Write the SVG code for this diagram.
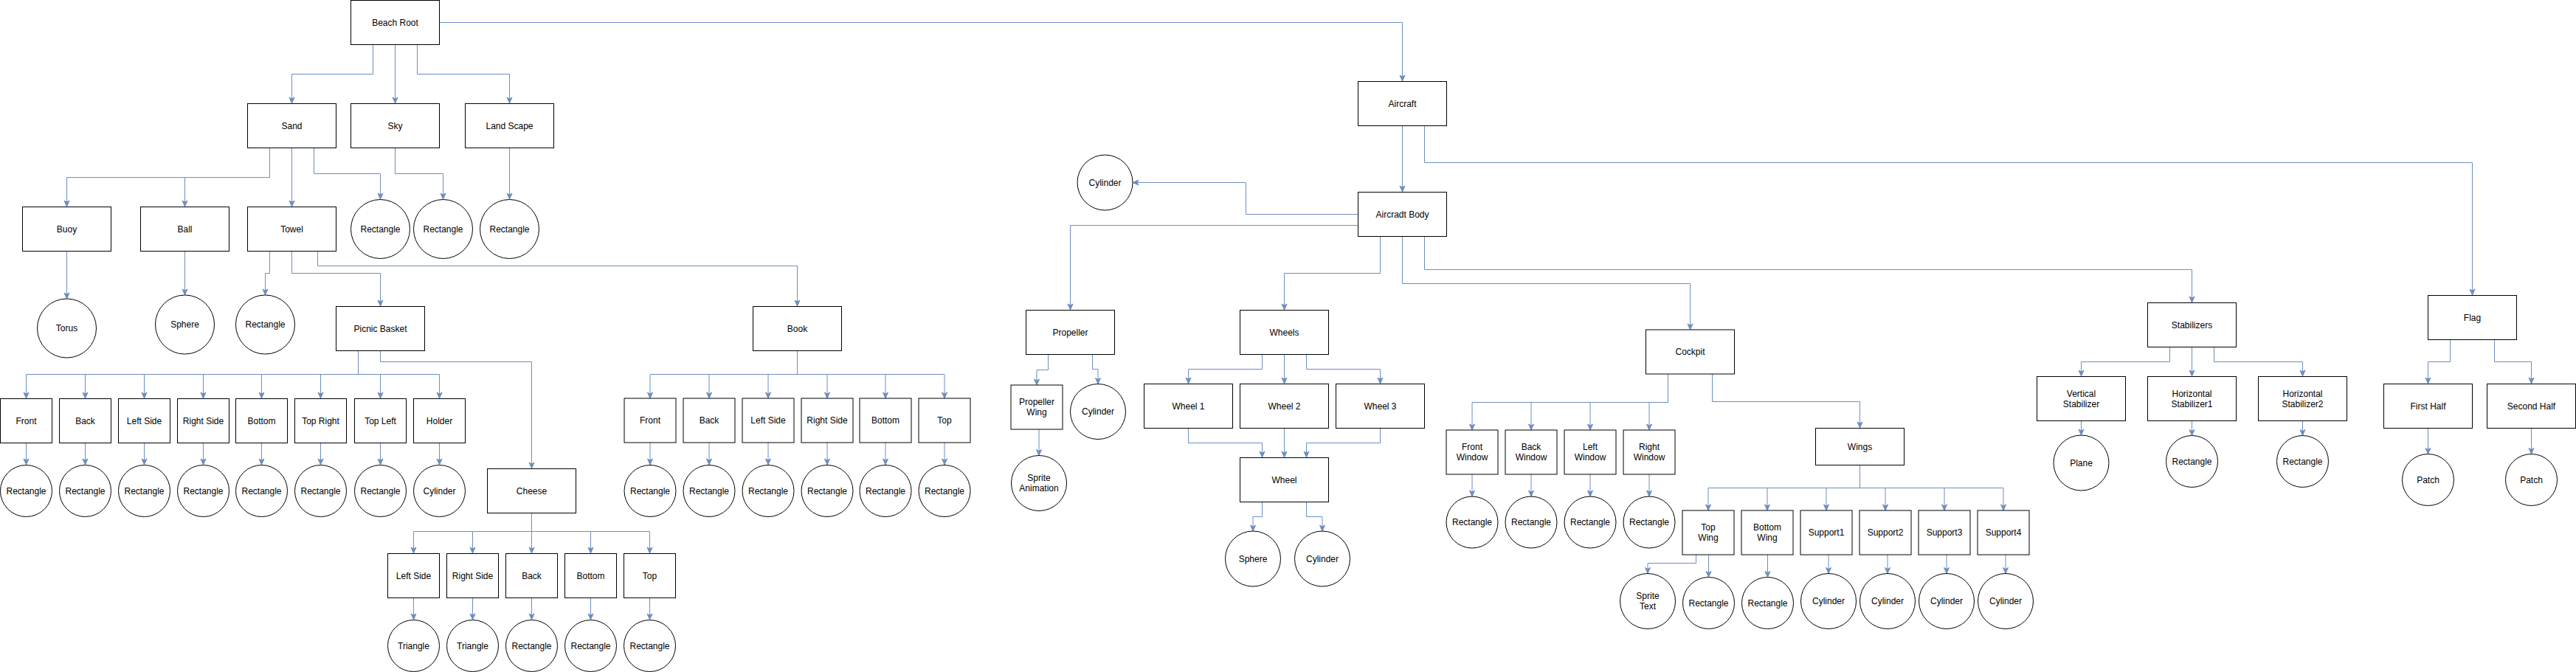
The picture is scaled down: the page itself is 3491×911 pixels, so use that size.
<svg xmlns="http://www.w3.org/2000/svg" width="3491" height="911" viewBox="0 0 3491 911">
<style>
.n{fill:#fff;stroke:#000;stroke-width:1}
.c{fill:#fff;stroke:#000;stroke-width:1}
.t{font-family:"Liberation Sans",Arial,sans-serif;font-size:12px;fill:#000;text-anchor:middle}
.e{fill:none;stroke:#6c8ebf;stroke-width:1;marker-end:url(#arr)}
</style>
<defs>
<marker id="arr" viewBox="0 0 10 10" refX="9" refY="5" markerWidth="10" markerHeight="10" markerUnits="userSpaceOnUse" orient="auto"><path d="M1,1.5 L9,5 L1,8.5 L3,5 Z" fill="#6c8ebf" stroke="#6c8ebf" stroke-width="1"/></marker>
</defs>
<rect x="0" y="0" width="3491" height="911" fill="#fff"/>
<g id="connectors">
<path class="e" d="M505.5,60.5 V100.5 H395.5 V140"/>
<path class="e" d="M535.5,60.5 V140"/>
<path class="e" d="M565.5,60.5 V100.5 H690.5 V140"/>
<path class="e" d="M595.5,30.5 H1900.5 V110"/>
<path class="e" d="M365.5,200.5 V240.5 H90.5 V280"/>
<path class="e" d="M365.5,200.5 V240.5 H250.5 V280"/>
<path class="e" d="M395.5,200.5 V280"/>
<path class="e" d="M425.5,200.5 V235.5 H515.5 V270"/>
<path class="e" d="M535.5,200.5 V235.5 H600.5 V270"/>
<path class="e" d="M690.5,200.5 V270"/>
<path class="e" d="M90.5,340.5 V405"/>
<path class="e" d="M250.5,340.5 V400"/>
<path class="e" d="M365.5,340.5 V370.5 H359.5 V400"/>
<path class="e" d="M395.5,340.5 V370.5 H515.5 V415"/>
<path class="e" d="M430.5,340.5 V360.5 H1080.5 V415"/>
<path class="e" d="M485.5,475.5 V507.5 H35.5 V540"/>
<path class="e" d="M485.5,475.5 V507.5 H115.5 V540"/>
<path class="e" d="M485.5,475.5 V507.5 H195.5 V540"/>
<path class="e" d="M485.5,475.5 V507.5 H275.5 V540"/>
<path class="e" d="M485.5,475.5 V507.5 H354.5 V540"/>
<path class="e" d="M485.5,475.5 V507.5 H434.5 V540"/>
<path class="e" d="M485.5,475.5 V507.5 H515.5 V540"/>
<path class="e" d="M485.5,475.5 V507.5 H595.5 V540"/>
<path class="e" d="M515.5,475.5 V490.5 H720.5 V635"/>
<path class="e" d="M35.5,600.5 V630"/>
<path class="e" d="M115.5,600.5 V630"/>
<path class="e" d="M195.5,600.5 V630"/>
<path class="e" d="M275.5,600.5 V630"/>
<path class="e" d="M354.5,600.5 V630"/>
<path class="e" d="M434.5,600.5 V630"/>
<path class="e" d="M515.5,600.5 V630"/>
<path class="e" d="M595.5,600.5 V630"/>
<path class="e" d="M720.5,695.5 V720.5 H560.5 V750"/>
<path class="e" d="M720.5,695.5 V720.5 H640.5 V750"/>
<path class="e" d="M720.5,695.5 V750"/>
<path class="e" d="M720.5,695.5 V720.5 H800.5 V750"/>
<path class="e" d="M720.5,695.5 V720.5 H880.5 V750"/>
<path class="e" d="M560.5,810.5 V840"/>
<path class="e" d="M640.5,810.5 V840"/>
<path class="e" d="M720.5,810.5 V840"/>
<path class="e" d="M800.5,810.5 V840"/>
<path class="e" d="M880.5,810.5 V840"/>
<path class="e" d="M1080.5,475.5 V507.5 H881 V540"/>
<path class="e" d="M1080.5,475.5 V507.5 H961 V540"/>
<path class="e" d="M1080.5,475.5 V507.5 H1041 V540"/>
<path class="e" d="M1080.5,475.5 V507.5 H1121 V540"/>
<path class="e" d="M1080.5,475.5 V507.5 H1200 V540"/>
<path class="e" d="M1080.5,475.5 V507.5 H1280 V540"/>
<path class="e" d="M881,600 V630"/>
<path class="e" d="M961,600 V630"/>
<path class="e" d="M1041,600 V630"/>
<path class="e" d="M1121,600 V630"/>
<path class="e" d="M1200,600 V630"/>
<path class="e" d="M1280,600 V630"/>
<path class="e" d="M1900.5,170.5 V260"/>
<path class="e" d="M1930.5,170.5 V220.5 H3350.5 V400"/>
<path class="e" d="M1840.5,290.5 H1688.5 V247.5 H1535"/>
<path class="e" d="M1840.5,305.5 H1450.5 V420"/>
<path class="e" d="M1870.5,320.5 V370.5 H1740.5 V420"/>
<path class="e" d="M1900.5,320.5 V384.5 H2290.5 V447"/>
<path class="e" d="M1930.5,320.5 V365.5 H2970.5 V410"/>
<path class="e" d="M1420.5,480.5 V501.5 H1405 V522"/>
<path class="e" d="M1480.5,480.5 V500.5 H1488 V520.5"/>
<path class="e" d="M1408,582 V617.5"/>
<path class="e" d="M1710.5,480.5 V500.5 H1610.5 V520"/>
<path class="e" d="M1740.5,480.5 V520"/>
<path class="e" d="M1770.5,480.5 V500.5 H1870.5 V520"/>
<path class="e" d="M1610.5,580.5 V600.5 H1710.5 V620"/>
<path class="e" d="M1740.5,580.5 V620"/>
<path class="e" d="M1870.5,580.5 V600.5 H1770.5 V620"/>
<path class="e" d="M1710.5,680.5 V700.5 H1698 V720"/>
<path class="e" d="M1770.5,680.5 V700.5 H1792 V720"/>
<path class="e" d="M2260.5,507 V545.5 H1995 V583"/>
<path class="e" d="M2260.5,507 V545.5 H2075 V583"/>
<path class="e" d="M2260.5,507 V545.5 H2155 V583"/>
<path class="e" d="M2260.5,507 V545.5 H2235 V583"/>
<path class="e" d="M1995,643 V673"/>
<path class="e" d="M2075,643 V673"/>
<path class="e" d="M2155,643 V673"/>
<path class="e" d="M2235,643 V673"/>
<path class="e" d="M2320.5,507 V544.5 H2520.5 V580"/>
<path class="e" d="M2520.5,630.5 V661.5 H2315 V692"/>
<path class="e" d="M2520.5,630.5 V661.5 H2395 V692"/>
<path class="e" d="M2520.5,630.5 V661.5 H2475 V692"/>
<path class="e" d="M2520.5,630.5 V661.5 H2555 V692"/>
<path class="e" d="M2520.5,630.5 V661.5 H2635 V692"/>
<path class="e" d="M2520.5,630.5 V661.5 H2715 V692"/>
<path class="e" d="M2298.5,752 V763.5 H2233 V777.5"/>
<path class="e" d="M2315.5,752 V782.5"/>
<path class="e" d="M2395.5,752 V782.5"/>
<path class="e" d="M2478,752 V777.5"/>
<path class="e" d="M2558,752 V777.5"/>
<path class="e" d="M2638,752 V777.5"/>
<path class="e" d="M2718,752 V777.5"/>
<path class="e" d="M2940.5,470.5 V490.5 H2820.5 V510"/>
<path class="e" d="M2970.5,470.5 V510"/>
<path class="e" d="M3000.5,470.5 V490.5 H3120.5 V510"/>
<path class="e" d="M2820.5,570.5 V590"/>
<path class="e" d="M2970.5,570.5 V590.5"/>
<path class="e" d="M3120.5,570.5 V590.5"/>
<path class="e" d="M3320.5,460.5 V490.5 H3290.5 V520"/>
<path class="e" d="M3380.5,460.5 V490.5 H3430.5 V520"/>
<path class="e" d="M3290.5,580.5 V615.5"/>
<path class="e" d="M3430.5,580.5 V615.5"/>
</g>
<g id="beach-root"><rect class="n" x="475.5" y="0.5" width="120" height="60"/><text class="t" x="535.5" y="34.5">Beach Root</text></g>
<g id="sand"><rect class="n" x="335.5" y="140.5" width="120" height="60"/><text class="t" x="395.5" y="174.5">Sand</text></g>
<g id="sky"><rect class="n" x="475.5" y="140.5" width="120" height="60"/><text class="t" x="535.5" y="174.5">Sky</text></g>
<g id="land-scape"><rect class="n" x="630.5" y="140.5" width="120" height="60"/><text class="t" x="690.5" y="174.5">Land Scape</text></g>
<g id="buoy"><rect class="n" x="30.5" y="280.5" width="120" height="60"/><text class="t" x="90.5" y="314.5">Buoy</text></g>
<g id="ball"><rect class="n" x="190.5" y="280.5" width="120" height="60"/><text class="t" x="250.5" y="314.5">Ball</text></g>
<g id="towel"><rect class="n" x="335.5" y="280.5" width="120" height="60"/><text class="t" x="395.5" y="314.5">Towel</text></g>
<g id="sand-rectangle"><circle class="c" cx="515.5" cy="310.5" r="40"/><text class="t" x="515.5" y="314.5">Rectangle</text></g>
<g id="sky-rectangle"><circle class="c" cx="600.5" cy="310.5" r="40"/><text class="t" x="600.5" y="314.5">Rectangle</text></g>
<g id="land-rectangle"><circle class="c" cx="690.5" cy="310.5" r="40"/><text class="t" x="690.5" y="314.5">Rectangle</text></g>
<g id="torus"><circle class="c" cx="90.5" cy="445" r="40"/><text class="t" x="90.5" y="449">Torus</text></g>
<g id="sphere-ball"><circle class="c" cx="250.5" cy="440" r="40"/><text class="t" x="250.5" y="444">Sphere</text></g>
<g id="towel-rectangle"><circle class="c" cx="359.5" cy="440" r="40"/><text class="t" x="359.5" y="444">Rectangle</text></g>
<g id="picnic-basket"><rect class="n" x="455.5" y="415.5" width="120" height="60"/><text class="t" x="515.5" y="449.5">Picnic Basket</text></g>
<g id="book"><rect class="n" x="1020.5" y="415.5" width="120" height="60"/><text class="t" x="1080.5" y="449.5">Book</text></g>
<g id="pb-front"><rect class="n" x="0.5" y="540.5" width="70" height="60"/><text class="t" x="35.5" y="574.5">Front</text></g>
<g id="pb-back"><rect class="n" x="80.5" y="540.5" width="70" height="60"/><text class="t" x="115.5" y="574.5">Back</text></g>
<g id="pb-left-side"><rect class="n" x="160.5" y="540.5" width="70" height="60"/><text class="t" x="195.5" y="574.5">Left Side</text></g>
<g id="pb-right-side"><rect class="n" x="240.5" y="540.5" width="70" height="60"/><text class="t" x="275.5" y="574.5">Right Side</text></g>
<g id="pb-bottom"><rect class="n" x="319.5" y="540.5" width="70" height="60"/><text class="t" x="354.5" y="574.5">Bottom</text></g>
<g id="pb-top-right"><rect class="n" x="399.5" y="540.5" width="70" height="60"/><text class="t" x="434.5" y="574.5">Top Right</text></g>
<g id="pb-top-left"><rect class="n" x="480.5" y="540.5" width="70" height="60"/><text class="t" x="515.5" y="574.5">Top Left</text></g>
<g id="pb-holder"><rect class="n" x="560.5" y="540.5" width="70" height="60"/><text class="t" x="595.5" y="574.5">Holder</text></g>
<g id="pb-front-rect"><circle class="c" cx="35.5" cy="665.5" r="35"/><text class="t" x="35.5" y="669.5">Rectangle</text></g>
<g id="pb-back-rect"><circle class="c" cx="115.5" cy="665.5" r="35"/><text class="t" x="115.5" y="669.5">Rectangle</text></g>
<g id="pb-left-rect"><circle class="c" cx="195.5" cy="665.5" r="35"/><text class="t" x="195.5" y="669.5">Rectangle</text></g>
<g id="pb-right-rect"><circle class="c" cx="275.5" cy="665.5" r="35"/><text class="t" x="275.5" y="669.5">Rectangle</text></g>
<g id="pb-bottom-rect"><circle class="c" cx="354.5" cy="665.5" r="35"/><text class="t" x="354.5" y="669.5">Rectangle</text></g>
<g id="pb-topright-rect"><circle class="c" cx="434.5" cy="665.5" r="35"/><text class="t" x="434.5" y="669.5">Rectangle</text></g>
<g id="pb-topleft-rect"><circle class="c" cx="515.5" cy="665.5" r="35"/><text class="t" x="515.5" y="669.5">Rectangle</text></g>
<g id="pb-holder-cyl"><circle class="c" cx="595.5" cy="665.5" r="35"/><text class="t" x="595.5" y="669.5">Cylinder</text></g>
<g id="cheese"><rect class="n" x="660.5" y="635.5" width="120" height="60"/><text class="t" x="720.5" y="669.5">Cheese</text></g>
<g id="ch-left-side"><rect class="n" x="525.5" y="750.5" width="70" height="60"/><text class="t" x="560.5" y="784.5">Left Side</text></g>
<g id="ch-right-side"><rect class="n" x="605.5" y="750.5" width="70" height="60"/><text class="t" x="640.5" y="784.5">Right Side</text></g>
<g id="ch-back"><rect class="n" x="685.5" y="750.5" width="70" height="60"/><text class="t" x="720.5" y="784.5">Back</text></g>
<g id="ch-bottom"><rect class="n" x="765.5" y="750.5" width="70" height="60"/><text class="t" x="800.5" y="784.5">Bottom</text></g>
<g id="ch-top"><rect class="n" x="845.5" y="750.5" width="70" height="60"/><text class="t" x="880.5" y="784.5">Top</text></g>
<g id="ch-left-tri"><circle class="c" cx="560.5" cy="875.5" r="35"/><text class="t" x="560.5" y="879.5">Triangle</text></g>
<g id="ch-right-tri"><circle class="c" cx="640.5" cy="875.5" r="35"/><text class="t" x="640.5" y="879.5">Triangle</text></g>
<g id="ch-back-rect"><circle class="c" cx="720.5" cy="875.5" r="35"/><text class="t" x="720.5" y="879.5">Rectangle</text></g>
<g id="ch-bottom-rect"><circle class="c" cx="800.5" cy="875.5" r="35"/><text class="t" x="800.5" y="879.5">Rectangle</text></g>
<g id="ch-top-rect"><circle class="c" cx="880.5" cy="875.5" r="35"/><text class="t" x="880.5" y="879.5">Rectangle</text></g>
<g id="bk-front"><rect class="n" x="846" y="540" width="70" height="60"/><text class="t" x="881" y="574">Front</text></g>
<g id="bk-back"><rect class="n" x="926" y="540" width="70" height="60"/><text class="t" x="961" y="574">Back</text></g>
<g id="bk-left-side"><rect class="n" x="1006" y="540" width="70" height="60"/><text class="t" x="1041" y="574">Left Side</text></g>
<g id="bk-right-side"><rect class="n" x="1086" y="540" width="70" height="60"/><text class="t" x="1121" y="574">Right Side</text></g>
<g id="bk-bottom"><rect class="n" x="1165" y="540" width="70" height="60"/><text class="t" x="1200" y="574">Bottom</text></g>
<g id="bk-top"><rect class="n" x="1245" y="540" width="70" height="60"/><text class="t" x="1280" y="574">Top</text></g>
<g id="bk-front-rect"><circle class="c" cx="881" cy="665.5" r="35"/><text class="t" x="881" y="669.5">Rectangle</text></g>
<g id="bk-back-rect"><circle class="c" cx="961" cy="665.5" r="35"/><text class="t" x="961" y="669.5">Rectangle</text></g>
<g id="bk-left-rect"><circle class="c" cx="1041" cy="665.5" r="35"/><text class="t" x="1041" y="669.5">Rectangle</text></g>
<g id="bk-right-rect"><circle class="c" cx="1121" cy="665.5" r="35"/><text class="t" x="1121" y="669.5">Rectangle</text></g>
<g id="bk-bottom-rect"><circle class="c" cx="1200" cy="665.5" r="35"/><text class="t" x="1200" y="669.5">Rectangle</text></g>
<g id="bk-top-rect"><circle class="c" cx="1280" cy="665.5" r="35"/><text class="t" x="1280" y="669.5">Rectangle</text></g>
<g id="aircraft"><rect class="n" x="1840.5" y="110.5" width="120" height="60"/><text class="t" x="1900.5" y="144.5">Aircraft</text></g>
<g id="aircraft-body"><rect class="n" x="1840.5" y="260.5" width="120" height="60"/><text class="t" x="1900.5" y="294.5">Aircradt Body</text></g>
<g id="body-cylinder"><circle class="c" cx="1497.5" cy="247.5" r="37.5"/><text class="t" x="1497.5" y="251.5">Cylinder</text></g>
<g id="propeller"><rect class="n" x="1390.5" y="420.5" width="120" height="60"/><text class="t" x="1450.5" y="454.5">Propeller</text></g>
<g id="wheels"><rect class="n" x="1680.5" y="420.5" width="120" height="60"/><text class="t" x="1740.5" y="454.5">Wheels</text></g>
<g id="cockpit"><rect class="n" x="2230.5" y="447" width="120" height="60"/><text class="t" x="2290.5" y="481">Cockpit</text></g>
<g id="stabilizers"><rect class="n" x="2910.5" y="410.5" width="120" height="60"/><text class="t" x="2970.5" y="444.5">Stabilizers</text></g>
<g id="flag"><rect class="n" x="3290.5" y="400.5" width="120" height="60"/><text class="t" x="3350.5" y="434.5">Flag</text></g>
<g id="propeller-wing"><rect class="n" x="1370" y="522" width="70" height="60"/><text class="t" x="1405" y="549">Propeller</text><text class="t" x="1405" y="563">Wing</text></g>
<g id="propeller-cylinder"><circle class="c" cx="1488" cy="558" r="37.5"/><text class="t" x="1488" y="562">Cylinder</text></g>
<g id="sprite-animation"><circle class="c" cx="1408" cy="655" r="37.5"/><text class="t" x="1408" y="652">Sprite</text><text class="t" x="1408" y="666">Animation</text></g>
<g id="wheel-1"><rect class="n" x="1550.5" y="520.5" width="120" height="60"/><text class="t" x="1610.5" y="554.5">Wheel 1</text></g>
<g id="wheel-2"><rect class="n" x="1680.5" y="520.5" width="120" height="60"/><text class="t" x="1740.5" y="554.5">Wheel 2</text></g>
<g id="wheel-3"><rect class="n" x="1810.5" y="520.5" width="120" height="60"/><text class="t" x="1870.5" y="554.5">Wheel 3</text></g>
<g id="wheel"><rect class="n" x="1680.5" y="620.5" width="120" height="60"/><text class="t" x="1740.5" y="654.5">Wheel</text></g>
<g id="wheel-sphere"><circle class="c" cx="1698" cy="757.5" r="37.5"/><text class="t" x="1698" y="761.5">Sphere</text></g>
<g id="wheel-cylinder"><circle class="c" cx="1792" cy="757.5" r="37.5"/><text class="t" x="1792" y="761.5">Cylinder</text></g>
<g id="front-window"><rect class="n" x="1960" y="583" width="70" height="60"/><text class="t" x="1995" y="610">Front</text><text class="t" x="1995" y="624">Window</text></g>
<g id="back-window"><rect class="n" x="2040" y="583" width="70" height="60"/><text class="t" x="2075" y="610">Back</text><text class="t" x="2075" y="624">Window</text></g>
<g id="left-window"><rect class="n" x="2120" y="583" width="70" height="60"/><text class="t" x="2155" y="610">Left</text><text class="t" x="2155" y="624">Window</text></g>
<g id="right-window"><rect class="n" x="2200" y="583" width="70" height="60"/><text class="t" x="2235" y="610">Right</text><text class="t" x="2235" y="624">Window</text></g>
<g id="fw-rect"><circle class="c" cx="1995" cy="708" r="35"/><text class="t" x="1995" y="712">Rectangle</text></g>
<g id="bw-rect"><circle class="c" cx="2075" cy="708" r="35"/><text class="t" x="2075" y="712">Rectangle</text></g>
<g id="lw-rect"><circle class="c" cx="2155" cy="708" r="35"/><text class="t" x="2155" y="712">Rectangle</text></g>
<g id="rw-rect"><circle class="c" cx="2235" cy="708" r="35"/><text class="t" x="2235" y="712">Rectangle</text></g>
<g id="wings"><rect class="n" x="2460.5" y="580.5" width="120" height="50"/><text class="t" x="2520.5" y="609.5">Wings</text></g>
<g id="top-wing"><rect class="n" x="2280" y="692" width="70" height="60"/><text class="t" x="2315" y="719">Top</text><text class="t" x="2315" y="733">Wing</text></g>
<g id="bottom-wing"><rect class="n" x="2360" y="692" width="70" height="60"/><text class="t" x="2395" y="719">Bottom</text><text class="t" x="2395" y="733">Wing</text></g>
<g id="support1"><rect class="n" x="2440" y="692" width="70" height="60"/><text class="t" x="2475" y="726">Support1</text></g>
<g id="support2"><rect class="n" x="2520" y="692" width="70" height="60"/><text class="t" x="2555" y="726">Support2</text></g>
<g id="support3"><rect class="n" x="2600" y="692" width="70" height="60"/><text class="t" x="2635" y="726">Support3</text></g>
<g id="support4"><rect class="n" x="2680" y="692" width="70" height="60"/><text class="t" x="2715" y="726">Support4</text></g>
<g id="sprite-text"><circle class="c" cx="2233" cy="815" r="37.5"/><text class="t" x="2233" y="812">Sprite</text><text class="t" x="2233" y="826">Text</text></g>
<g id="top-wing-rect"><circle class="c" cx="2315.5" cy="817.5" r="35"/><text class="t" x="2315.5" y="821.5">Rectangle</text></g>
<g id="bottom-wing-rect"><circle class="c" cx="2395.5" cy="817.5" r="35"/><text class="t" x="2395.5" y="821.5">Rectangle</text></g>
<g id="s1-cyl"><circle class="c" cx="2478" cy="815" r="37.5"/><text class="t" x="2478" y="819">Cylinder</text></g>
<g id="s2-cyl"><circle class="c" cx="2558" cy="815" r="37.5"/><text class="t" x="2558" y="819">Cylinder</text></g>
<g id="s3-cyl"><circle class="c" cx="2638" cy="815" r="37.5"/><text class="t" x="2638" y="819">Cylinder</text></g>
<g id="s4-cyl"><circle class="c" cx="2718" cy="815" r="37.5"/><text class="t" x="2718" y="819">Cylinder</text></g>
<g id="vertical-stabilizer"><rect class="n" x="2760.5" y="510.5" width="120" height="60"/><text class="t" x="2820.5" y="537.5">Vertical</text><text class="t" x="2820.5" y="551.5">Stabilizer</text></g>
<g id="horizontal-stabilizer1"><rect class="n" x="2910.5" y="510.5" width="120" height="60"/><text class="t" x="2970.5" y="537.5">Horizontal</text><text class="t" x="2970.5" y="551.5">Stabilizer1</text></g>
<g id="horizontal-stabilizer2"><rect class="n" x="3060.5" y="510.5" width="120" height="60"/><text class="t" x="3120.5" y="537.5">Horizontal</text><text class="t" x="3120.5" y="551.5">Stabilizer2</text></g>
<g id="plane"><circle class="c" cx="2820.5" cy="627.5" r="37.5"/><text class="t" x="2820.5" y="631.5">Plane</text></g>
<g id="hs1-rect"><circle class="c" cx="2970.5" cy="625.5" r="35"/><text class="t" x="2970.5" y="629.5">Rectangle</text></g>
<g id="hs2-rect"><circle class="c" cx="3120.5" cy="625.5" r="35"/><text class="t" x="3120.5" y="629.5">Rectangle</text></g>
<g id="first-half"><rect class="n" x="3230.5" y="520.5" width="120" height="60"/><text class="t" x="3290.5" y="554.5">First Half</text></g>
<g id="second-half"><rect class="n" x="3370.5" y="520.5" width="120" height="60"/><text class="t" x="3430.5" y="554.5">Second Half</text></g>
<g id="patch-1"><circle class="c" cx="3290.5" cy="650.5" r="35"/><text class="t" x="3290.5" y="654.5">Patch</text></g>
<g id="patch-2"><circle class="c" cx="3430.5" cy="650.5" r="35"/><text class="t" x="3430.5" y="654.5">Patch</text></g>
</svg>
